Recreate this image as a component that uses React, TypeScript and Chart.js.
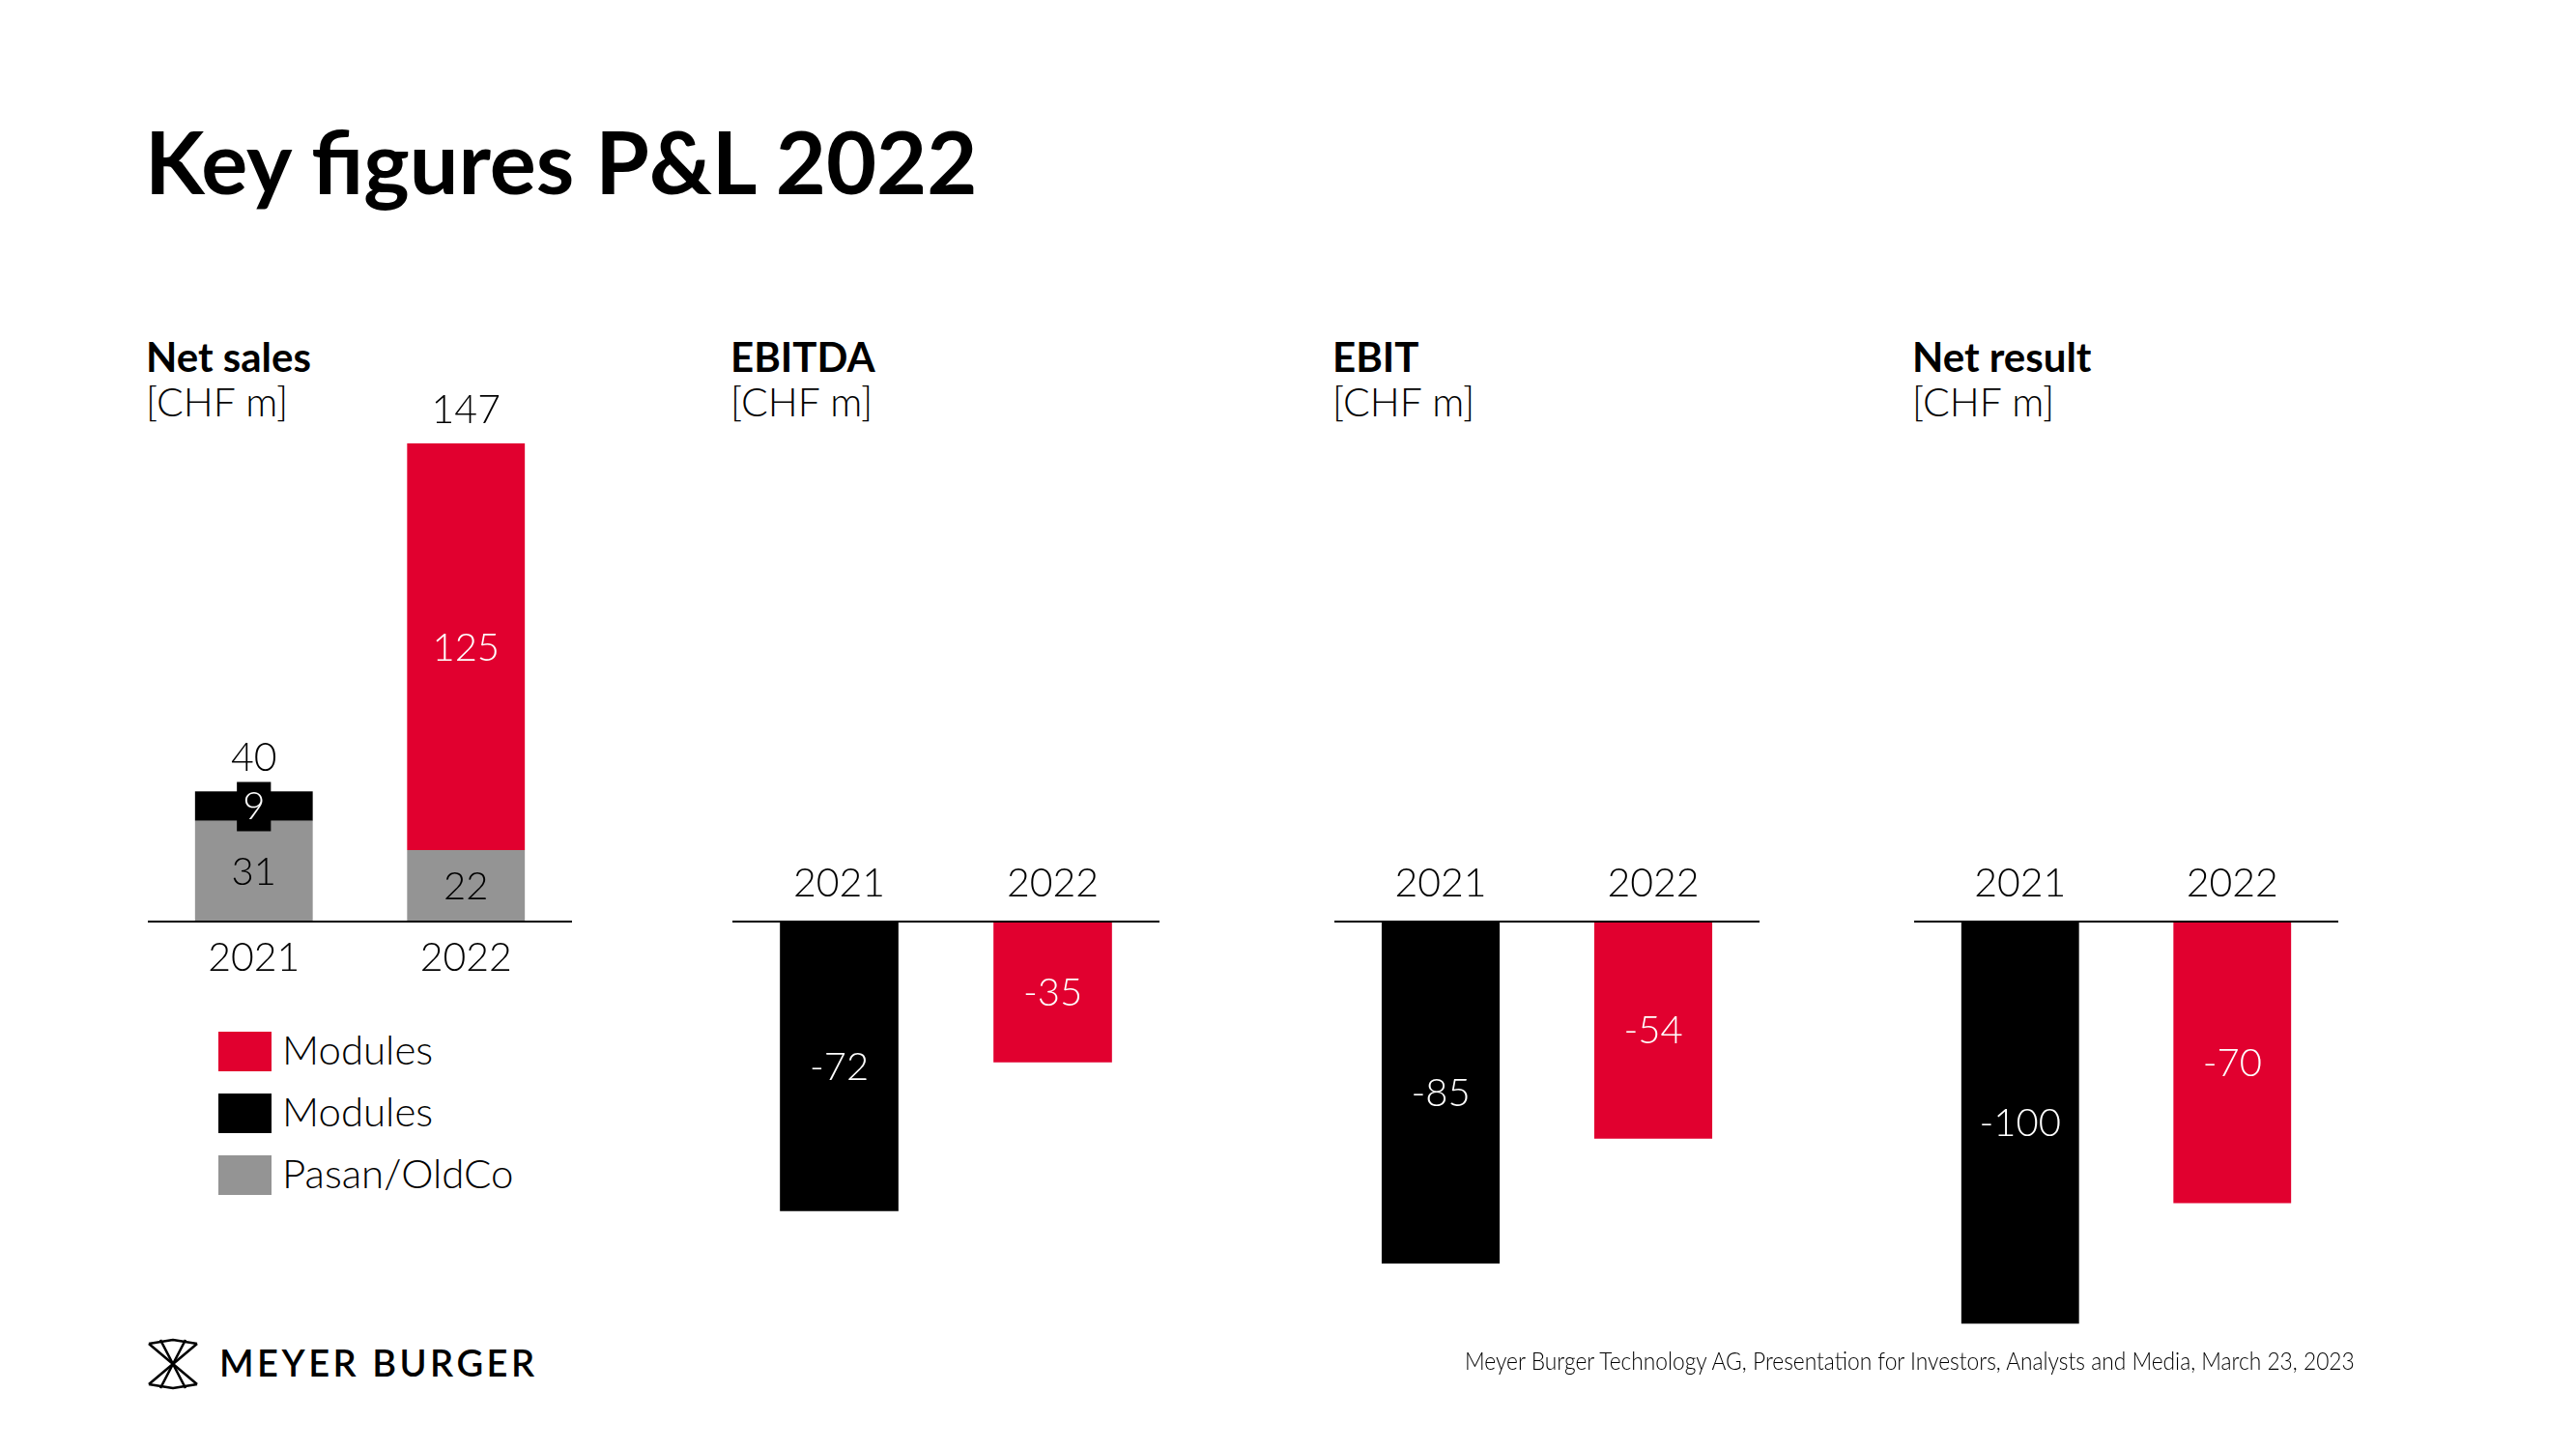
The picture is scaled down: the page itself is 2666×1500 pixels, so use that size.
import React, { useEffect, useRef } from "react";
import { Chart, registerables } from "chart.js";

Chart.register(...registerables);

// ---------- data ----------
const years = ["2021", "2022"];
const netSalesPasan = [31, 22];
const netSalesModulesBlack = [9, 0];
const netSalesModulesRed = [0, 125];
const ebitda = [-72, -35];
const ebit = [-85, -54];
const netResult = [-100, -70];
const legendLabels = ["Modules", "Modules", "Pasan/OldCo"];
const panelTitles = ["Net sales", "EBITDA", "EBIT", "Net result"];
const unitLabel = "[CHF m]";
const footerText =
  "Meyer Burger Technology AG, Presentation for Investors, Analysts and Media, March 23, 2023";

// ---------- style ----------
const RED = "#E1002F";
const BLACK = "#000000";
const GRAY = "#949494";
const FONT = "Lato, 'Open Sans', 'DejaVu Sans', sans-serif";
const legendColors = [RED, BLACK, GRAY];

const labelPlugin = {
  id: "panelLabels",
  afterDatasetsDraw(chart: any, _args: any, opts: any) {
    const { ctx, chartArea } = chart;
    const x = chart.scales.x;
    const y = chart.scales.y;
    const zero = y.getPixelForValue(0);
    ctx.save();
    // baseline
    ctx.strokeStyle = "#000";
    ctx.lineWidth = 2;
    ctx.beginPath();
    ctx.moveTo(chartArea.left, zero);
    ctx.lineTo(chartArea.right, zero);
    ctx.stroke();

    // category labels
    ctx.textAlign = "center";
    ctx.textBaseline = "alphabetic";
    ctx.font = `300 41px ${FONT}`;
    ctx.fillStyle = "#000";
    chart.data.labels.forEach((lab: string, i: number) => {
      const px = x.getPixelForValue(i);
      ctx.fillText(lab, px, opts.yearsAbove ? zero - 26 : zero + 51);
    });

    // segment labels
    ctx.font = `300 40px ${FONT}`;
    chart.data.datasets.forEach((ds: any, di: number) => {
      const meta = chart.getDatasetMeta(di);
      meta.data.forEach((el: any, i: number) => {
        const v = ds.data[i];
        if (!v) return;
        const p = el.getProps(["x", "y", "base"], true);
        const cy = (p.y + p.base) / 2;
        const txt = String(v);
        if (ds.labelBox) {
          const w = ctx.measureText(txt).width + 12;
          ctx.fillStyle = ds.labelBox;
          ctx.fillRect(p.x - w / 2, cy - 25, w, 51);
        }
        ctx.fillStyle = ds.textColor || "#fff";
        ctx.fillText(txt, p.x, cy + 14);
      });
    });

    // totals
    if (opts.totals) {
      ctx.font = `300 41px ${FONT}`;
      ctx.fillStyle = "#000";
      chart.data.labels.forEach((_l: string, i: number) => {
        let sum = 0;
        chart.data.datasets.forEach((ds: any) => (sum += ds.data[i] || 0));
        const px = x.getPixelForValue(i);
        const py = y.getPixelForValue(sum);
        ctx.fillText(String(sum), px, py - 21);
      });
    }
    ctx.restore();
  },
};

function baseOptions(padTop: number, padBottom: number, yMin: number, yMax: number, stacked: boolean, opts: any) {
  return {
    responsive: false,
    maintainAspectRatio: false,
    animation: false,
    devicePixelRatio: 1,
    layout: { padding: { top: padTop, bottom: padBottom, left: 0, right: 0 } },
    datasets: { bar: { barPercentage: 0.555, categoryPercentage: 1, borderWidth: 0 } },
    scales: {
      x: { display: false, stacked },
      y: { display: false, stacked, min: yMin, max: yMax },
    },
    plugins: {
      legend: { display: false },
      tooltip: { enabled: false },
      panelLabels: opts,
    },
  };
}

function netSalesConfig() {
  return {
    type: "bar",
    data: {
      labels: years,
      datasets: [
        { label: legendLabels[2], data: netSalesPasan, backgroundColor: GRAY, textColor: "#000" },
        { label: legendLabels[1], data: netSalesModulesBlack, backgroundColor: BLACK, textColor: "#fff", labelBox: BLACK },
        { label: legendLabels[0], data: netSalesModulesRed, backgroundColor: RED, textColor: "#fff" },
      ],
    },
    options: baseOptions(69, 86, 0, 150, true, { yearsAbove: false, totals: true }),
    plugins: [labelPlugin],
  };
}

function lossConfig(values: number[], name: string) {
  return {
    type: "bar",
    data: {
      labels: years,
      datasets: [{ label: name, data: values, backgroundColor: [BLACK, RED], textColor: "#fff" }],
    },
    options: baseOptions(94, 8, -110, 0, false, { yearsAbove: true, totals: false }),
    plugins: [labelPlugin],
  };
}

type PanelProps = { left: number; top: number; width: number; height: number; config: any };

function ChartPanel({ left, top, width, height, config }: PanelProps) {
  const ref = useRef<HTMLCanvasElement>(null);
  useEffect(() => {
    const chart = new Chart(ref.current as HTMLCanvasElement, config);
    return () => chart.destroy();
  }, []);
  return (
    <canvas
      ref={ref}
      width={width}
      height={height}
      style={{ position: "absolute", left, top, width, height, display: "block" }}
    />
  );
}

const panelLefts = [153, 758, 1381, 1981];

function Logo() {
  return (
    <svg width="54" height="54" viewBox="0 0 54 54" style={{ position: "absolute", left: 152, top: 1385 }}>
      <g fill="none" stroke="#000" strokeWidth="2.6" strokeLinejoin="round">
        <polyline points="2,6 27,2 52,6" />
        <polyline points="2,48 27,52 52,48" />
        <line x1="2" y1="6" x2="52" y2="48" />
        <line x1="52" y1="6" x2="2" y2="48" />
        <polyline points="14,2 27,27 14,52" />
        <polyline points="40,2 27,27 40,52" />
      </g>
    </svg>
  );
}

export default function App() {
  const text = (style: React.CSSProperties, content: string, key?: string) => (
    <div key={key} style={{ position: "absolute", whiteSpace: "nowrap", fontFamily: FONT, color: "#000", ...style }}>
      {content}
    </div>
  );
  return (
    <div style={{ position: "absolute", left: 0, top: 0, width: 2666, height: 1500, background: "#fff", overflow: "hidden" }}>
      {text({ left: 150, top: 121, fontSize: 90, lineHeight: "90px", fontWeight: 700 }, "Key figures P&L 2022")}
      {panelTitles.map((t, i) => (
        <React.Fragment key={t}>
          {text({ left: panelLefts[i] - 2, top: 348, fontSize: 42, lineHeight: "42px", fontWeight: 700 }, t)}
          {text({ left: panelLefts[i] - 2, top: 395, fontSize: 41, lineHeight: "42px", fontWeight: 300 }, unitLabel)}
        </React.Fragment>
      ))}

      <ChartPanel left={153} top={380} width={439} height={660} config={netSalesConfig()} />
      <ChartPanel left={758} top={860} width={442} height={560} config={lossConfig(ebitda, panelTitles[1])} />
      <ChartPanel left={1381} top={860} width={440} height={560} config={lossConfig(ebit, panelTitles[2])} />
      <ChartPanel left={1981} top={860} width={439} height={560} config={lossConfig(netResult, panelTitles[3])} />

      {legendLabels.map((l, i) => (
        <React.Fragment key={"lg" + i}>
          <div style={{ position: "absolute", left: 226, top: 1068 + i * 64, width: 55, height: 41, background: legendColors[i] }} />
          {text({ left: 292, top: 1065 + i * 64, fontSize: 42, lineHeight: "42px", fontWeight: 300 }, l)}
        </React.Fragment>
      ))}

      <Logo />
      {text({ left: 227, top: 1391, fontSize: 38, lineHeight: "38px", fontWeight: 600, letterSpacing: "3.5px" }, "MEYER BURGER")}
      {text(
        { right: 229, top: 1396, fontSize: 25, lineHeight: "25px", fontWeight: 300, transform: "scaleX(0.91)", transformOrigin: "right center" },
        footerText
      )}
    </div>
  );
}
